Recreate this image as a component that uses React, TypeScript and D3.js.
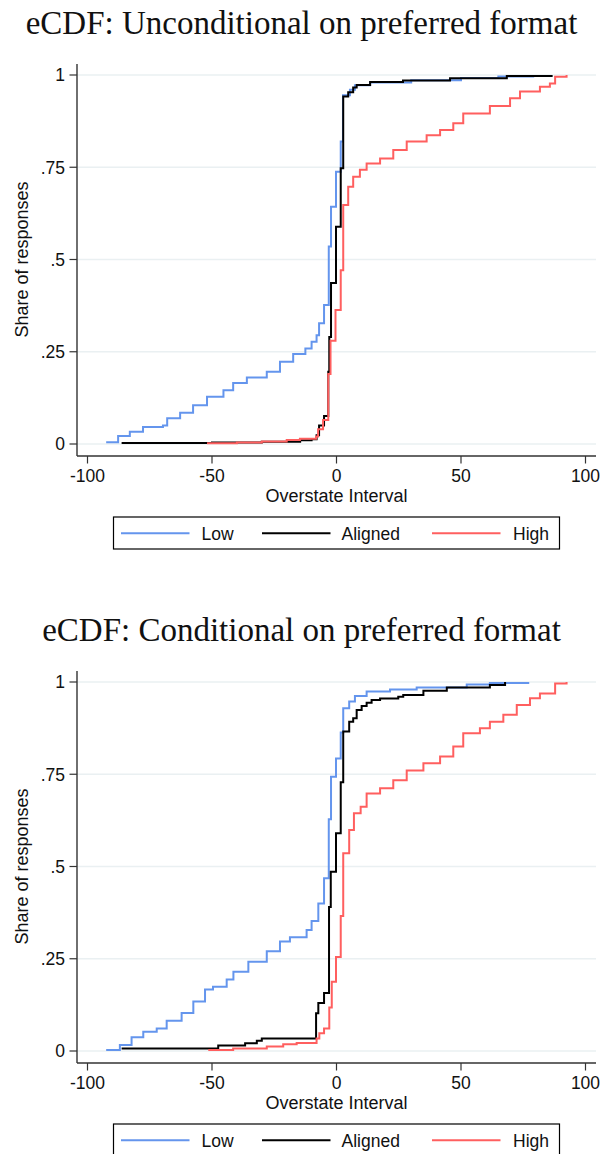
import * as d3 from 'd3';

// eCDF breakpoints: [overstate interval, cumulative share]
const uncondLow: [number, number][] = [
  [-92.5, 0.005], [-87.7, 0.022], [-83, 0.033], [-77.7, 0.046], [-69.7, 0.05], [-68, 0.07],
  [-62.8, 0.085], [-57.6, 0.105], [-52, 0.128], [-45.4, 0.146], [-41.5, 0.165], [-36, 0.18],
  [-28, 0.196], [-22.7, 0.223], [-17.4, 0.244], [-12.5, 0.259], [-10, 0.277], [-8, 0.295],
  [-7, 0.327], [-5, 0.377], [-3.1, 0.535], [-2.2, 0.643], [-0.2, 0.738], [1.7, 0.82],
  [2.6, 0.945], [5.4, 0.96], [7.4, 0.972], [13.5, 0.98], [30, 0.986], [50, 0.992], [65, 0.996],
  [79, 1.0],
];
const uncondAligned: [number, number][] = [
  [-86.3, 0.003], [-50, 0.004], [-30, 0.006], [-14.6, 0.01], [-10, 0.013], [-8, 0.024],
  [-7, 0.05], [-5, 0.076], [-3.3, 0.196], [-2.9, 0.29], [-2.2, 0.436], [-0.2, 0.589],
  [1.7, 0.747], [2.7, 0.942], [4.7, 0.953], [6.7, 0.966], [8.1, 0.973], [13.5, 0.981],
  [26.7, 0.985], [45.6, 0.991], [68.4, 0.997], [86.4, 1.0],
];
const uncondHigh: [number, number][] = [
  [-52, 0.002], [-40, 0.004], [-30, 0.007], [-20, 0.011], [-14.7, 0.014], [-8.2, 0.02],
  [-7.4, 0.04], [-5.4, 0.065], [-3.3, 0.19], [-2.4, 0.28], [-0.4, 0.363], [1.7, 0.471],
  [2.7, 0.648], [4.7, 0.697], [6.7, 0.724], [9.4, 0.743], [12.1, 0.76], [17.5, 0.774],
  [22.8, 0.797], [28.2, 0.82], [36.2, 0.837], [41.6, 0.851], [46.9, 0.869], [50.9, 0.896],
  [61.6, 0.916], [69.7, 0.937], [73.7, 0.955], [81.7, 0.968], [85.7, 0.977], [87.8, 0.995],
  [92.4, 1.0],
];

const condLow: [number, number][] = [
  [-92.5, 0.003], [-87, 0.016], [-82.3, 0.037], [-77.6, 0.052], [-72.2, 0.061], [-68.2, 0.082],
  [-62.2, 0.103], [-57.5, 0.134], [-52.8, 0.167], [-49.6, 0.174], [-44.1, 0.194], [-41.4, 0.215],
  [-35.4, 0.242], [-28, 0.27], [-22.7, 0.297], [-18.7, 0.308], [-12, 0.328], [-10, 0.352],
  [-7.3, 0.4], [-5, 0.468], [-3.1, 0.628], [-2.2, 0.743], [-0.2, 0.793], [1.7, 0.863],
  [2.7, 0.929], [5.1, 0.947], [7.4, 0.962], [12.1, 0.974], [21.5, 0.98], [32.2, 0.985],
  [52.3, 0.993], [61.6, 0.997], [77, 1.0],
];
const condAligned: [number, number][] = [
  [-86.3, 0.007], [-47.5, 0.015], [-36.7, 0.021], [-32, 0.028], [-30, 0.034], [-8.2, 0.102],
  [-7.3, 0.13], [-5, 0.157], [-3.0, 0.39], [-2.3, 0.486], [-0.2, 0.59], [1.7, 0.728],
  [2.7, 0.866], [5.1, 0.892], [6.7, 0.902], [8.1, 0.924], [10.1, 0.935], [12.1, 0.944],
  [14.1, 0.951], [17.5, 0.955], [24.8, 0.96], [26.8, 0.965], [34.9, 0.976], [44.3, 0.985],
  [61.6, 0.992], [67.7, 1.0],
];
const condHigh: [number, number][] = [
  [-51.5, 0.003], [-41.5, 0.007], [-28, 0.012], [-21.4, 0.018], [-16, 0.022], [-8, 0.034],
  [-6.9, 0.048], [-5, 0.061], [-2.9, 0.118], [-1.9, 0.188], [-0.2, 0.255], [1.7, 0.366],
  [2.7, 0.536], [5.1, 0.599], [7, 0.644], [9.7, 0.662], [12.1, 0.698], [17.5, 0.712],
  [22.8, 0.734], [28.2, 0.76], [34.9, 0.78], [41.6, 0.798], [46.9, 0.825], [50.9, 0.861],
  [57.6, 0.875], [61.6, 0.892], [67, 0.911], [72.4, 0.938], [77.7, 0.956], [81.7, 0.969],
  [87.8, 0.996], [92.4, 1.0],
];

const xTicks = [-100, -50, 0, 50, 100];
const yTicks = [0, 0.25, 0.5, 0.75, 1];
const yTickLabels = ['0', '.25', '.5', '.75', '1'];
const seriesNames = ['Low', 'Aligned', 'High'];
const seriesColors = ['#6495ed', '#000000', '#ff5f5f'];

const SANS = '"Liberation Sans", Arial, sans-serif';
const SERIF = '"Liberation Serif", "Times New Roman", serif';

const W = 602;
const H = 1154;
const panelOffset = 607;

const x = d3.scaleLinear().domain([-100, 100]).range([87.5, 585.5]);
const y = d3.scaleLinear().domain([0, 1]).range([444, 75]);
const plotLeft = 77;
const plotRight = 596;
const axisY = 456;

const line = d3
  .line<[number, number]>()
  .x((d) => x(d[0]))
  .y((d) => y(d[1]))
  .curve(d3.curveStepAfter);

const legendX = [121, 262, 432];
const legendTextX = [201.5, 341.5, 513];

function Panel({ title, series, offset }: { title: string; series: [number, number][][]; offset: number }) {
  return (
    <g transform={`translate(0,${offset})`}>
      <text x={301.5} y={34} textAnchor="middle" fontFamily={SERIF} fontSize={33} fill="#111">
        {title}
      </text>

      {/* gridlines */}
      {yTicks.map((t) => (
        <line key={t} x1={plotLeft} x2={plotRight} y1={y(t)} y2={y(t)} stroke="#eaf0f2" strokeWidth={1.5} />
      ))}

      {/* axes */}
      <line x1={plotLeft} x2={plotLeft} y1={64} y2={axisY} stroke="#333" strokeWidth={1.4} />
      <line x1={plotLeft} x2={plotRight} y1={axisY} y2={axisY} stroke="#333" strokeWidth={1.4} />

      {yTicks.map((t, i) => (
        <g key={t}>
          <line x1={69.5} x2={plotLeft} y1={y(t)} y2={y(t)} stroke="#333" strokeWidth={1.2} />
          <text x={65} y={y(t)} dy="0.36em" textAnchor="end" fontFamily={SANS} fontSize={17.5} fill="#111">
            {yTickLabels[i]}
          </text>
        </g>
      ))}
      {xTicks.map((t) => (
        <g key={t}>
          <line x1={x(t)} x2={x(t)} y1={axisY} y2={axisY + 7.5} stroke="#333" strokeWidth={1.2} />
          <text x={x(t)} y={482} textAnchor="middle" fontFamily={SANS} fontSize={17.5} fill="#111">
            {t}
          </text>
        </g>
      ))}

      <text x={336.5} y={502} textAnchor="middle" fontFamily={SANS} fontSize={18} fill="#111">
        Overstate Interval
      </text>
      <text
        transform={`translate(28,259.5) rotate(-90)`}
        textAnchor="middle"
        fontFamily={SANS}
        fontSize={18}
        fill="#111"
      >
        Share of responses
      </text>

      {/* eCDF curves */}
      {series.map((s, i) => (
        <path key={i} d={line(s) ?? ''} fill="none" stroke={seriesColors[i]} strokeWidth={2} />
      ))}

      {/* legend */}
      <rect x={113.5} y={517} width={446} height={32} fill="#fff" stroke="#000" strokeWidth={1.2} />
      {seriesNames.map((n, i) => (
        <g key={n}>
          <line x1={legendX[i]} x2={legendX[i] + 68.5} y1={533.3} y2={533.3} stroke={seriesColors[i]} strokeWidth={2} />
          <text x={legendTextX[i]} y={539.5} fontFamily={SANS} fontSize={17.5} fill="#111">
            {n}
          </text>
        </g>
      ))}
    </g>
  );
}

export default function App() {
  return (
    <svg
      width={W}
      height={H}
      viewBox={`0 0 ${W} ${H}`}
      style={{ position: 'absolute', left: 0, top: 0, background: '#fff' }}
    >
      <rect width={W} height={H} fill="#fff" />
      <Panel title="eCDF: Unconditional on preferred format" series={[uncondLow, uncondAligned, uncondHigh]} offset={0} />
      <Panel title="eCDF: Conditional on preferred format" series={[condLow, condAligned, condHigh]} offset={panelOffset} />
    </svg>
  );
}
